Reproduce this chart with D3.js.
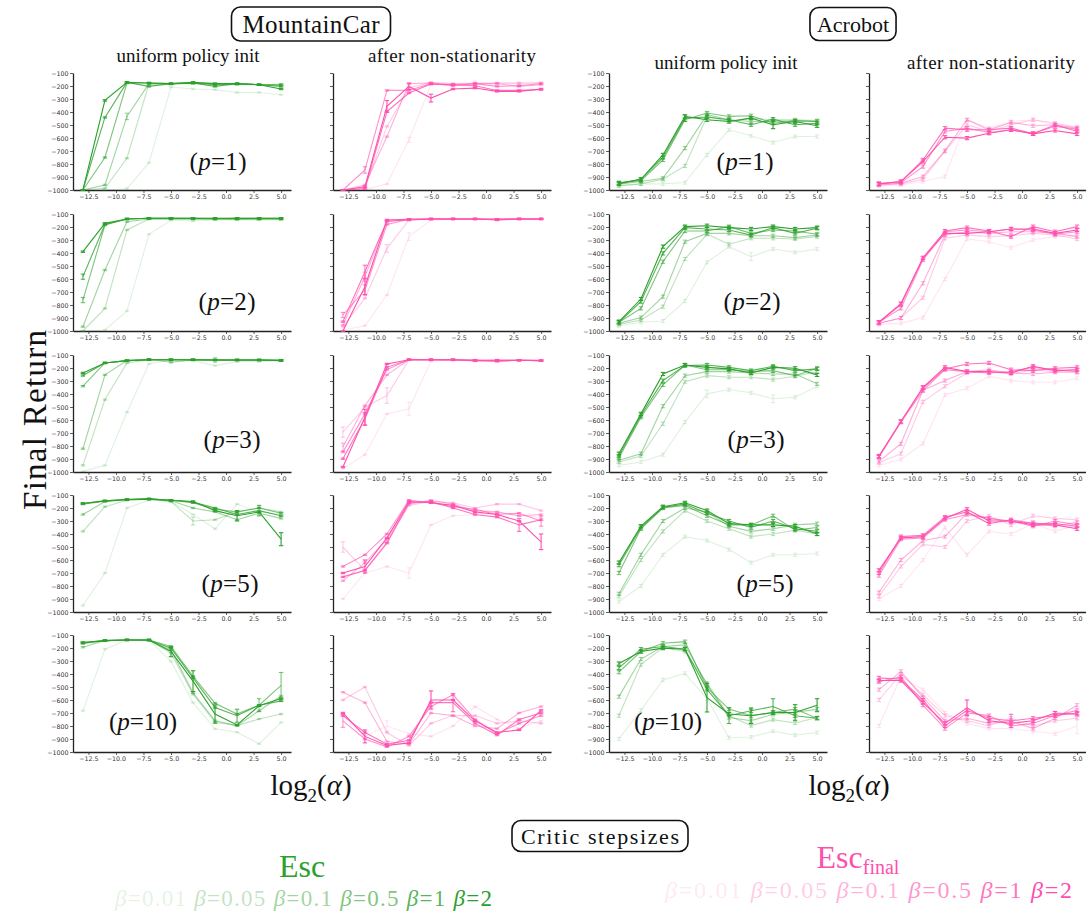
<!DOCTYPE html>
<html><head><meta charset="utf-8">
<script src="https://cdn.jsdelivr.net/npm/d3@7"></script>
<style>body{margin:0;background:#fff} svg{display:block}</style>
</head><body>
<svg id="c" width="1086" height="911"></svg>
<script>
// ---------- DATA ----------
const logAlpha = [-13,-11,-9,-7,-5,-3,-1,1,3,5];
const betas = ["0.01","0.05","0.1","0.5","1","2"];
const xTicks = [-12.5,-10,-7.5,-5,-2.5,0,2.5,5];
const yTicks = [-1000,-900,-800,-700,-600,-500,-400,-300,-200,-100];
const pValues = [1,2,3,5,10];
// each panel: series ordered beta = 0.01, 0.05, 0.1, 0.5, 1, 2
const mcUniP1 = [
 [-1000,-1000,-990,-790,-208,-223,-228,-250,-250,-267],
 [-1000,-987,-756,-182,-185,-180,-190,-190,-190,-198],
 [-1000,-961,-434,-182,-185,-178,-182,-185,-190,-187],
 [-1000,-750,-177,-177,-182,-177,-190,-182,-190,-190],
 [-1000,-442,-172,-203,-182,-177,-203,-182,-190,-203],
 [-1000,-311,-172,-177,-182,-172,-182,-182,-190,-223]];
const mcNonP1 = [
 [-1000,-995,-954,-614,-190,-182,-182,-177,-172,-172],
 [-1000,-985,-511,-216,-172,-182,-177,-177,-182,-177],
 [-1000,-961,-589,-182,-177,-190,-182,-182,-203,-190],
 [-1000,-846,-234,-234,-182,-198,-182,-203,-198,-182],
 [-1000,-990,-396,-254,-185,-190,-198,-234,-234,-228],
 [-1000,-975,-357,-203,-293,-223,-216,-241,-241,-223]];
const acUniP1 = [
 [-969,-953,-953,-943,-730,-537,-583,-635,-589,-589],
 [-966,-953,-918,-815,-434,-473,-447,-460,-460,-466],
 [-956,-935,-910,-678,-421,-460,-473,-473,-466,-473],
 [-943,-928,-769,-460,-408,-434,-429,-486,-468,-473],
 [-953,-918,-750,-447,-439,-460,-498,-455,-498,-486],
 [-948,-918,-730,-434,-460,-473,-447,-498,-473,-506]];
const acNonP1 = [
 [-969,-961,-935,-897,-460,-524,-473,-460,-498,-537],
 [-961,-953,-918,-704,-498,-550,-498,-460,-486,-517],
 [-961,-948,-897,-697,-460,-537,-480,-506,-498,-524],
 [-948,-943,-820,-550,-524,-558,-537,-563,-511,-532],
 [-953,-935,-769,-524,-537,-537,-524,-568,-498,-550],
 [-954,-935,-781,-594,-601,-563,-537,-568,-542,-568]];
const mcUniP2 = [
 [-1000,-992,-846,-256,-146,-154,-146,-146,-146,-146],
 [-1000,-826,-223,-138,-138,-140,-140,-142,-140,-140],
 [-967,-531,-159,-138,-138,-138,-140,-140,-140,-140],
 [-762,-185,-138,-133,-133,-135,-135,-135,-135,-135],
 [-582,-180,-138,-133,-133,-133,-135,-133,-133,-133],
 [-390,-172,-138,-133,-133,-133,-133,-133,-133,-133]];
const mcNonP2 = [
 [-992,-959,-723,-274,-146,-140,-140,-140,-140,-140],
 [-967,-749,-364,-146,-140,-138,-138,-140,-138,-138],
 [-954,-582,-159,-140,-138,-138,-138,-140,-138,-138],
 [-877,-685,-180,-140,-138,-138,-138,-140,-138,-138],
 [-928,-544,-154,-146,-138,-138,-138,-140,-138,-138],
 [-1000,-659,-146,-140,-138,-138,-138,-146,-138,-138]];
const acUniP2 = [
 [-959,-933,-923,-769,-472,-351,-428,-369,-395,-369],
 [-949,-915,-813,-446,-256,-333,-287,-287,-292,-274],
 [-941,-897,-736,-313,-249,-249,-267,-267,-282,-262],
 [-933,-826,-467,-231,-231,-197,-249,-223,-231,-256],
 [-933,-774,-403,-205,-215,-223,-262,-205,-249,-210],
 [-928,-754,-351,-197,-190,-205,-215,-197,-215,-205]];
const acNonP2 = [
 [-949,-941,-897,-600,-292,-313,-359,-300,-274,-262],
 [-941,-900,-744,-287,-262,-274,-267,-249,-262,-292],
 [-941,-900,-633,-262,-236,-249,-236,-236,-249,-274],
 [-933,-826,-454,-236,-223,-236,-215,-223,-256,-236],
 [-933,-788,-436,-231,-205,-231,-274,-197,-236,-197],
 [-933,-795,-441,-249,-249,-236,-215,-215,-249,-223]];
const mcUniP3 = [
 [-995,-949,-540,-169,-138,-143,-182,-151,-151,-146],
 [-949,-443,-161,-136,-136,-138,-138,-140,-140,-140],
 [-821,-253,-143,-133,-156,-138,-140,-138,-138,-140],
 [-340,-161,-143,-136,-136,-136,-138,-138,-138,-140],
 [-258,-161,-143,-136,-136,-136,-138,-138,-138,-140],
 [-238,-161,-143,-136,-136,-136,-138,-138,-138,-143]];
const mcNonP3 = [
 [-975,-867,-553,-514,-146,-140,-140,-140,-140,-140],
 [-693,-501,-412,-136,-136,-138,-138,-138,-140,-140],
 [-808,-489,-253,-136,-138,-138,-143,-148,-140,-143],
 [-847,-553,-212,-136,-136,-136,-146,-143,-140,-143],
 [-898,-591,-195,-136,-136,-136,-140,-148,-140,-143],
 [-962,-578,-169,-136,-136,-136,-140,-140,-140,-143]];
const acUniP3 = [
 [-949,-923,-867,-616,-399,-366,-391,-437,-425,-340],
 [-923,-877,-629,-305,-259,-271,-271,-289,-264,-228],
 [-910,-859,-494,-259,-228,-228,-238,-246,-246,-322],
 [-893,-579,-330,-177,-213,-213,-228,-220,-259,-202],
 [-877,-566,-297,-182,-177,-195,-220,-187,-220,-207],
 [-859,-553,-246,-177,-195,-207,-238,-195,-202,-253]];
const acNonP3 = [
 [-949,-904,-781,-407,-356,-264,-297,-310,-310,-279],
 [-928,-859,-460,-340,-238,-228,-246,-213,-228,-213],
 [-918,-783,-371,-297,-228,-213,-238,-246,-233,-233],
 [-885,-617,-374,-213,-228,-238,-228,-195,-213,-228],
 [-885,-611,-356,-207,-169,-161,-213,-220,-202,-195],
 [-877,-611,-348,-195,-228,-228,-238,-187,-220,-213]];
const mcUniP5 = [
 [-950,-700,-200,-140,-150,-250,-360,-170,-230,-250],
 [-380,-190,-140,-132,-150,-300,-290,-230,-200,-230],
 [-250,-150,-138,-132,-145,-200,-230,-290,-240,-280],
 [-170,-148,-135,-132,-140,-160,-210,-230,-200,-240],
 [-165,-145,-135,-130,-140,-155,-200,-250,-220,-260],
 [-165,-145,-135,-130,-140,-150,-220,-260,-230,-440]];
const mcNonP5 = [
 [-900,-700,-650,-700,-330,-260,-250,-230,-260,-270],
 [-500,-680,-460,-180,-150,-160,-200,-170,-170,-220],
 [-760,-620,-440,-170,-140,-170,-220,-230,-260,-250],
 [-650,-560,-400,-140,-160,-190,-210,-250,-240,-300],
 [-730,-680,-470,-160,-150,-200,-250,-270,-330,-290],
 [-700,-650,-430,-150,-160,-180,-230,-250,-300,-460]];
const acUniP5 = [
 [-920,-800,-560,-420,-450,-520,-620,-560,-560,-550],
 [-880,-600,-380,-220,-300,-360,-420,-400,-370,-400],
 [-860,-560,-300,-200,-230,-340,-380,-360,-330,-320],
 [-700,-360,-200,-180,-260,-330,-330,-260,-370,-350],
 [-640,-350,-195,-170,-240,-300,-350,-300,-360,-380],
 [-620,-340,-190,-160,-220,-320,-330,-330,-340,-400]];
const acNonP5 = [
 [-900,-800,-600,-350,-560,-380,-400,-320,-380,-330],
 [-880,-650,-480,-500,-300,-260,-330,-260,-280,-290],
 [-850,-600,-450,-420,-240,-280,-310,-310,-340,-310],
 [-720,-440,-430,-290,-250,-280,-300,-340,-300,-330],
 [-700,-420,-410,-270,-230,-320,-290,-320,-320,-340],
 [-680,-430,-420,-280,-210,-300,-300,-330,-330,-360]];
const mcUniP10 = [
 [-683,-209,-138,-138,-303,-620,-822,-848,-937,-772],
 [-168,-143,-138,-138,-240,-556,-772,-797,-746,-708],
 [-194,-143,-138,-143,-214,-544,-759,-797,-683,-569],
 [-163,-143,-138,-138,-189,-417,-625,-708,-640,-488],
 [-158,-143,-138,-138,-201,-430,-658,-721,-640,-607],
 [-158,-143,-138,-138,-227,-455,-708,-792,-645,-589]];
const mcNonP10 = [
 [-720,-880,-800,-860,-880,-800,-650,-750,-820,-760],
 [-600,-500,-850,-950,-780,-720,-720,-780,-760,-780],
 [-540,-620,-920,-940,-700,-720,-800,-820,-700,-650],
 [-760,-900,-960,-880,-650,-560,-750,-860,-780,-720],
 [-720,-850,-940,-910,-620,-620,-780,-870,-750,-700],
 [-700,-880,-950,-930,-600,-600,-760,-850,-830,-680]];
const acUniP10 = [
 [-899,-680,-445,-395,-590,-890,-885,-840,-870,-850],
 [-721,-328,-196,-227,-470,-721,-797,-751,-777,-735],
 [-574,-285,-189,-176,-480,-735,-759,-710,-696,-670],
 [-386,-227,-163,-151,-506,-670,-721,-696,-670,-740],
 [-353,-209,-189,-209,-518,-721,-683,-650,-721,-740],
 [-320,-227,-201,-209,-582,-708,-721,-696,-696,-640]];
const acNonP10 = [
 [-800,-420,-520,-700,-780,-820,-820,-840,-860,-800],
 [-600,-400,-560,-720,-760,-800,-740,-800,-760,-740],
 [-520,-380,-580,-760,-740,-780,-760,-820,-740,-640],
 [-460,-420,-640,-820,-700,-720,-800,-780,-720,-680],
 [-430,-440,-600,-800,-680,-740,-760,-740,-720,-700],
 [-450,-450,-620,-780,-660,-760,-780,-760,-700,-710]];
// larger error bars: [row, col, betaIndex, pointIndex, halfWidth]
const bigErrors = [
 [0,1,3,1,25],[0,1,5,2,45],[0,1,5,4,30],[0,1,5,3,25],[0,1,0,6,20],[0,1,0,3,20],[0,0,2,2,25],
 [1,1,5,1,60],[1,1,4,1,50],[1,1,3,1,40],[1,1,1,2,30],[1,1,0,3,30],[1,1,2,1,35],[1,0,4,0,20],[1,0,3,0,20],[1,1,3,0,20],
 [2,1,1,0,40],[2,1,5,1,60],[2,1,4,1,50],[2,1,1,2,60],[2,1,0,3,50],[2,1,2,0,30],[2,0,1,6,20],
 [3,0,5,9,50],[3,0,5,7,40],[3,0,4,8,40],[3,0,1,5,30],[3,1,5,9,60],[3,1,1,0,40],[3,1,0,3,40],[3,1,4,8,50],[3,1,3,9,40],[3,1,5,1,50],
 [4,0,5,5,80],[4,0,5,6,70],[4,0,4,7,50],[4,0,3,9,100],[4,0,3,8,50],[4,0,5,4,40],
 [4,1,5,4,70],[4,1,4,5,70],[4,1,5,1,50],[4,1,3,0,50],[4,1,0,2,40],
 [4,2,5,4,110],[4,2,4,5,60],[4,2,5,6,60],[4,2,4,7,60],[4,2,5,8,60],[4,2,5,9,50],
 [4,3,5,4,60],[4,3,4,6,50],[4,3,0,9,60],
 [2,2,0,4,30],[2,2,0,7,30],[1,2,0,6,30],[0,2,4,3,25],[0,2,5,7,30]
];
// ---------- LAYOUT ----------
const svg = d3.select("#c");
const colLeft = [73,333,609,869], rowTop = [73,214,355,495,635], W = 218, H = 117;
const green = "#2ca02c", pink = "#ff4fae";
const alphas = [0.15,0.3,0.45,0.62,0.8,1];
const serif = "'Liberation Serif','DejaVu Serif',serif";
const grid = [
 [mcUniP1, mcNonP1, acUniP1, acNonP1],
 [mcUniP2, mcNonP2, acUniP2, acNonP2],
 [mcUniP3, mcNonP3, acUniP3, acNonP3],
 [mcUniP5, mcNonP5, acUniP5, acNonP5],
 [mcUniP10, mcNonP10, acUniP10, acNonP10]];
const x = d3.scaleLinear().domain([-13.9,5.9]).range([0,W]);
const y = d3.scaleLinear().domain([-1000,-100]).range([H,0]);
const fmtY = d3.format("d"), fmtX = d3.format(".1f");

grid.forEach((row, r) => row.forEach((data, c) => {
  const g = svg.append("g").attr("transform", `translate(${colLeft[c]},${rowTop[r]})`);
  const color = (c % 2 === 0) ? green : pink;
  const isAc = c >= 2;
  const yAxis = d3.axisLeft(y).tickValues(yTicks).tickSize(3).tickSizeOuter(0)
     .tickFormat(c % 2 === 0 ? d => fmtY(d).replace("-", "\u2212") : "");
  const xAxis = d3.axisBottom(x).tickValues(xTicks).tickSize(3).tickSizeOuter(0)
     .tickFormat(d => fmtX(d));
  const ga = g.append("g").call(yAxis);
  const gb = g.append("g").attr("transform", `translate(0,${H})`).call(xAxis);
  [ga, gb].forEach(a => {
    a.select(".domain").attr("stroke", "#222").attr("stroke-width", 1.3);
    a.selectAll(".tick line").attr("stroke", "#333").attr("stroke-width", 0.8);
    a.selectAll("text").attr("font-family", "'DejaVu Sans',sans-serif").attr("font-size", 6.3).attr("fill", "#333");
  });
  ga.selectAll("text").attr("x", -4.5);
  gb.selectAll("text").attr("y", 5);
  const line = d3.line().x((d, i) => x(logAlpha[i])).y(d => y(d));
  data.forEach((s, si) => {
    const sg = g.append("g").attr("stroke", color).attr("stroke-opacity", alphas[si]).attr("fill", "none").attr("stroke-width", 1.1);
    sg.append("path").attr("d", line(s));
    s.forEach((v, i) => {
      let e = isAc ? 12 : (v <= -995 ? 0 : 5);
      bigErrors.forEach(b => { if (b[0] === r && b[1] === c && b[2] === si && b[3] === i) e = b[4]; });
      const lo = Math.max(-1000, v - e), hi = Math.min(-100, v + e);
      const px = x(logAlpha[i]);
      sg.append("line").attr("x1", px).attr("x2", px).attr("y1", y(lo)).attr("y2", y(hi));
      sg.append("line").attr("x1", px - 2.2).attr("x2", px + 2.2).attr("y1", y(lo)).attr("y2", y(lo));
      sg.append("line").attr("x1", px - 2.2).attr("x2", px + 2.2).attr("y1", y(hi)).attr("y2", y(hi));
    });
  });
}));

// p labels
const pLabelPos = [[[218,170],[745,170]],[[227,310],[752,310]],[[232,448],[756,448]],[[230,592],[765,592]],[[143,730],[668,730]]];
pValues.forEach((p, r) => pLabelPos[r].forEach(pos => {
  const t = svg.append("text").attr("x", pos[0]).attr("y", pos[1]).attr("text-anchor", "middle")
    .attr("font-family", serif).attr("font-size", 25).attr("fill", "#111")
    .attr("textLength", p >= 10 ? 68 : 57).attr("lengthAdjust", "spacing");
  t.append("tspan").text("(");
  t.append("tspan").attr("font-style", "italic").text("p");
  t.append("tspan").text("=" + p + ")");
}));

// Titles with boxes
function boxed(txt, cx, cy, fs, len, padX, h) {
  const g = svg.append("g");
  const rect = g.append("rect");
  const t = g.append("text").attr("x", cx).attr("y", cy).attr("text-anchor", "middle")
    .attr("dominant-baseline", "central").attr("font-family", serif).attr("font-size", fs).attr("fill", "#111").text(txt);
  if (len) t.attr("textLength", len).attr("lengthAdjust", "spacing");
  const w = (len || t.node().getComputedTextLength()) + 2 * padX;
  rect.attr("x", cx - w / 2).attr("y", cy - h / 2).attr("width", w).attr("height", h)
    .attr("rx", 9).attr("fill", "#fff").attr("stroke", "#111").attr("stroke-width", 1.6);
}
boxed("MountainCar", 311, 24, 25, 137, 11, 34);
boxed("Acrobot", 853, 24, 22, 0, 7, 33);
boxed("Critic stepsizes", 600, 836, 22, 158, 9, 31);

const subs = [["uniform policy init", 188, 62, 143], ["after non-stationarity", 452, 62, 168], ["uniform policy init", 726, 69, 143], ["after non-stationarity", 991, 69, 168]];
subs.forEach(s => svg.append("text").attr("x", s[1]).attr("y", s[2]).attr("text-anchor", "middle")
  .attr("font-family", serif).attr("font-size", 19).attr("fill", "#111")
  .attr("textLength", s[3]).attr("lengthAdjust", "spacing").text(s[0]));

svg.append("text").attr("transform", "translate(46,420) rotate(-90)").attr("text-anchor", "middle")
  .attr("font-family", serif).attr("font-size", 33).attr("fill", "#111")
  .attr("textLength", 180).attr("lengthAdjust", "spacing").text("Final Return");

[311, 849].forEach(cx => {
  const t = svg.append("text").attr("x", cx).attr("y", 795).attr("text-anchor", "middle")
    .attr("font-family", serif).attr("font-size", 29).attr("fill", "#111");
  t.append("tspan").text("log");
  t.append("tspan").attr("font-size", 19).attr("dy", 7).text("2");
  t.append("tspan").attr("dy", -7).text("(");
  t.append("tspan").attr("font-style", "italic").text("α");
  t.append("tspan").text(")");
});

// legends
svg.append("text").attr("x", 302).attr("y", 877).attr("text-anchor", "middle").attr("font-family", serif)
  .attr("font-size", 32).attr("fill", green).text("Esc");
const ef = svg.append("text").attr("x", 858).attr("y", 868).attr("text-anchor", "middle").attr("font-family", serif)
  .attr("font-size", 32).attr("fill", pink);
ef.append("tspan").text("Esc");
ef.append("tspan").attr("font-size", 20).attr("dy", 6).text("final");

function betaRow(x0, len, yb, color, fs) {
  const t = svg.append("text").attr("x", x0).attr("y", yb).attr("font-family", serif).attr("font-size", fs)
    .attr("textLength", len).attr("lengthAdjust", "spacing");
  betas.forEach((b, i) => {
    t.append("tspan").attr("fill", color).attr("fill-opacity", alphas[i]).attr("font-style", "italic").text((i ? " " : "") + "β");
    t.append("tspan").attr("fill", color).attr("fill-opacity", alphas[i]).text("=" + b);
  });
}
betaRow(115, 377, 906, green, 23);
betaRow(665, 407, 898, pink, 24);
</script></body></html>
